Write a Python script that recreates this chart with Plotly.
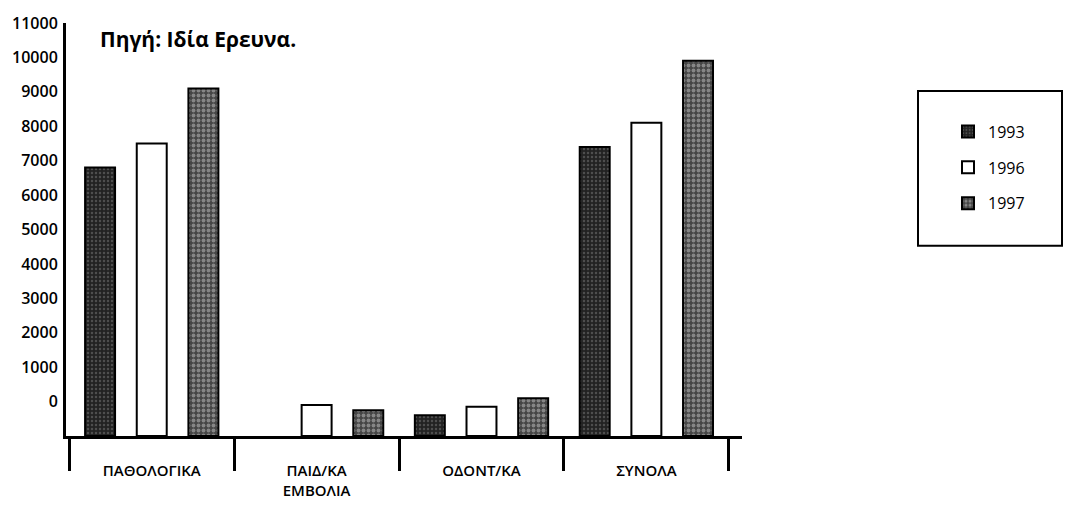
import plotly.graph_objects as go

# Categories and yearly counts
categories = ["ΠΑΘΟΛΟΓΙΚΑ", "ΠΑΙΔ/ΚΑ<br>ΕΜΒΟΛΙΑ", "ΟΔΟΝΤ/ΚΑ", "ΣΥΝΟΛΑ"]
years = ["1993", "1996", "1997"]
values_1993 = [7800, None, 600, 8400]
values_1996 = [8500, 900, 850, 9100]
values_1997 = [10100, 750, 1100, 10900]

# Y-axis tick labels as printed on the axis
y_tick_labels = ["0", "1000", "2000", "3000", "4000", "5000", "6000",
                 "7000", "8000", "9000", "10000", "11000"]

series = [values_1993, values_1996, values_1997]
patterns = [
    dict(shape=".", bgcolor="#222222", fgcolor="#7a7a7a", size=4, solidity=0.3),
    dict(shape="", bgcolor="white", fgcolor="white"),
    dict(shape=".", bgcolor="#454545", fgcolor="#c8c8c8", size=5, solidity=0.45),
]
fills = ["#303030", "white", "#777777"]

FONT = "Open Sans, DejaVu Sans, sans-serif"

W, H = 1067, 514
ML, MR, MT, MB = 66, 325, 17, 78
plot_w = W - ML - MR
plot_h = H - MT - MB


def px_x(px):
    return (px - ML) / plot_w


def px_y(py):
    return 1 - (py - MT) / plot_h


fig = go.Figure()
for year, vals, pat, fill in zip(years, series, patterns, fills):
    fig.add_trace(go.Bar(
        name=year,
        x=categories,
        y=vals,
        legendgroup=year,
        marker=dict(color=fill, pattern=pat,
                    line=dict(color="black", width=2)),
    ))

fig.update_layout(
    width=W, height=H,
    margin=dict(l=ML, r=MR, t=MT, b=MB),
    paper_bgcolor="white", plot_bgcolor="white",
    barmode="group", bargap=0.06, bargroupgap=0.42,
    font=dict(family=FONT, color="black", size=15),
    showlegend=True,
    legend=dict(
        x=px_x(948), y=px_y(110), xanchor="left", yanchor="top",
        bgcolor="rgba(0,0,0,0)", borderwidth=0,
        font=dict(size=16, family=FONT, weight=500),
        tracegroupgap=12, traceorder="grouped",
        itemwidth=30,
    ),
    xaxis=dict(
        type="category", range=[-0.52, 3.58],
        showline=True, linecolor="black", linewidth=3,
        ticks="outside", tickson="boundaries", ticklen=32,
        tickwidth=3, tickcolor="black",
        ticklabelstandoff=19,
        showgrid=False, zeroline=False,
        tickfont=dict(size=15, family=FONT, weight=600),
    ),
    yaxis=dict(
        range=[0, 12000],
        tickmode="array",
        tickvals=[(i + 1) * 1000 for i in range(len(y_tick_labels))],
        ticktext=y_tick_labels,
        showline=True, linecolor="black", linewidth=3,
        ticks="", showgrid=False, zeroline=False,
        ticklabelstandoff=2,
        tickfont=dict(size=16, family=FONT, weight=600),
    ),
    shapes=[
        # frame around the legend
        dict(type="rect", xref="paper", yref="paper",
             x0=px_x(918), x1=px_x(1062), y0=px_y(243), y1=px_y(86),
             line=dict(color="black", width=2), fillcolor="rgba(0,0,0,0)"),
    ],
    annotations=[
        dict(text="Πηγή: Ιδία Ερευνα.", xref="paper", yref="paper",
             x=px_x(98), y=px_y(33), xanchor="left", yanchor="middle",
             showarrow=False,
             font=dict(size=21, family=FONT, color="black", weight="bold")),
    ],
)

fig.write_html("out.html")
